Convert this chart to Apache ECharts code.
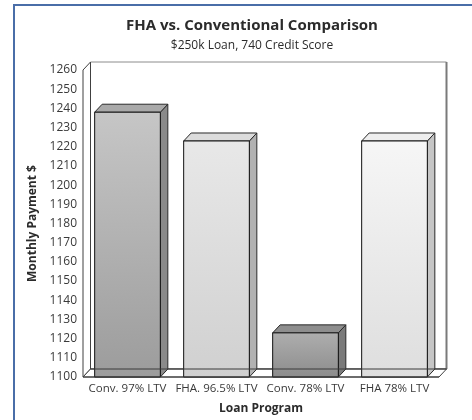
<!DOCTYPE html>
<html>
<head>
<meta charset="utf-8">
<script src="https://cdn.jsdelivr.net/npm/echarts@6/dist/echarts.min.js"></script>
<style>
  html, body { margin: 0; padding: 0; background: #fff; }
  #chart { width: 472px; height: 420px; }
</style>
</head>
<body>
<div id="chart"></div>
<script>
// Loan programs and their monthly payments
const categories = ['Conv. 97% LTV', 'FHA. 96.5% LTV', 'Conv. 78% LTV', 'FHA 78% LTV'];
const payments = [1238, 1223, 1123, 1223];

// Value axis range
const yMin = 1100;
const yMax = 1260;
const yStep = 10;

// Shading of each bar: front gradient, top face, right face
const barFaces = [
  { front: ['#c6c6c6', '#9c9c9c'], lid: '#a9a9a9', side: '#8a8a8a' },
  { front: ['#e8e8e8', '#d0d0d0'], lid: '#dcdcdc', side: '#b2b2b2' },
  { front: ['#aeaeae', '#8c8c8c'], lid: '#8e8e8e', side: '#7a7a7a' },
  { front: ['#f6f6f6', '#dedede'], lid: '#eeeeee', side: '#c6c6c6' }
];

// 3D depth offset of the box and bars
const DX = 7.5;
const DY = 8;
const FONT = '"Open Sans", "Noto Sans", sans-serif';

const chart = echarts.init(document.getElementById('chart'));

function renderWalls(params) {
  const cs = params.coordSys;
  const x = cs.x, y = cs.y, w = cs.width, h = cs.height;
  return {
    type: 'group',
    children: [
      { type: 'rect', shape: { x: x + DX, y: y - DY, width: w, height: h },
        style: { fill: '#fff', stroke: '#8c8c8c', lineWidth: 1 } },
      { type: 'line', shape: { x1: x + w + DX, y1: y - DY, x2: x + w + DX, y2: y + h - DY },
        style: { stroke: '#7a7a7a', lineWidth: 2 } },
      { type: 'polygon', shape: { points: [[x, y], [x + DX, y - DY], [x + DX, y + h - DY], [x, y + h]] },
        style: { fill: '#fff', stroke: '#404040', lineWidth: 1 } },
      { type: 'polygon', shape: { points: [[x, y + h], [x + DX, y + h - DY], [x + w + DX, y + h - DY], [x + w, y + h]] },
        style: { fill: '#fff', stroke: '#404040', lineWidth: 1 } }
    ]
  };
}

function renderFloorEdges(params) {
  const cs = params.coordSys;
  const x = cs.x, y = cs.y, w = cs.width, h = cs.height;
  return {
    type: 'group',
    children: [
      { type: 'line', shape: { x1: x + DX, y1: y + h - DY, x2: x + w + DX, y2: y + h - DY },
        style: { stroke: '#3a3a3a', lineWidth: 1 } },
      { type: 'line', shape: { x1: x, y1: y + h, x2: x + w, y2: y + h },
        style: { stroke: '#3a3a3a', lineWidth: 1 } }
    ]
  };
}

function renderBar(params, api) {
  const i = api.value(0);
  const top = api.coord([i, api.value(1)]);
  const base = api.coord([i, yMin]);
  const bw = api.size([1, 0])[0] * 0.738;
  const x0 = top[0] - bw / 2, x1 = top[0] + bw / 2;
  const yT = top[1], yB = base[1];
  const f = barFaces[i];
  return {
    type: 'group',
    children: [
      { type: 'polygon', shape: { points: [[x1, yT], [x1 + DX, yT - DY], [x1 + DX, yB - DY], [x1, yB]] },
        style: { fill: f.side, stroke: '#2a2a2a', lineWidth: 1 } },
      { type: 'polygon', shape: { points: [[x0, yT], [x0 + DX, yT - DY], [x1 + DX, yT - DY], [x1, yT]] },
        style: { fill: f.lid, stroke: '#2a2a2a', lineWidth: 1 } },
      { type: 'rect', shape: { x: x0, y: yT, width: bw, height: yB - yT },
        style: {
          fill: new echarts.graphic.LinearGradient(0, 0, 0, 1, [
            { offset: 0, color: f.front[0] }, { offset: 1, color: f.front[1] }
          ]),
          stroke: '#111', lineWidth: 1
        } }
    ]
  };
}

chart.setOption({
  animation: false,
  backgroundColor: '#fff',
  title: [
    { text: 'FHA vs. Conventional Comparison', left: 247, top: 13, textAlign: 'center',
      textStyle: { fontFamily: FONT, fontSize: 15, fontWeight: 'bold', color: '#2b2b2b' } },
    { text: '$250k Loan, 740 Credit Score', left: 247, top: 35, textAlign: 'center',
      textStyle: { fontFamily: FONT, fontSize: 12, fontWeight: 'normal', color: '#2b2b2b' } }
  ],
  graphic: [
    { type: 'polyline', shape: { points: [[14, 420], [14, 5], [472, 5]] },
      style: { stroke: '#4a6ea8', lineWidth: 2, fill: null } }
  ],
  grid: { left: 83, right: 33, top: 70, bottom: 43 },
  xAxis: {
    type: 'category',
    data: categories,
    name: 'Loan Program',
    nameLocation: 'middle',
    nameGap: 26,
    nameTextStyle: { fontFamily: FONT, fontSize: 12, fontWeight: 'bold', color: '#2b2b2b' },
    axisLine: { show: false },
    axisTick: { show: false },
    axisLabel: { fontFamily: FONT, fontSize: 11.5, color: '#3a3a3a', margin: 6, interval: 0 }
  },
  yAxis: {
    type: 'value',
    min: yMin,
    max: yMax,
    interval: yStep,
    name: 'Monthly Payment $',
    nameLocation: 'middle',
    nameGap: 37,
    nameTextStyle: { fontFamily: FONT, fontSize: 12, fontWeight: 'bold', color: '#2b2b2b' },
    axisLine: { show: false },
    axisTick: { show: false },
    splitLine: { show: false },
    axisLabel: { fontFamily: FONT, fontSize: 12, color: '#3a3a3a', margin: 6,
      formatter: (v) => String(v) }
  },
  series: [
    { type: 'custom', renderItem: renderWalls, data: [[0, yMin]], z: 1, silent: true },
    { type: 'custom', renderItem: renderBar,
      data: payments.map((v, i) => [i, v]), z: 2 },
    { type: 'custom', renderItem: renderFloorEdges, data: [[0, yMin]], z: 3, silent: true }
  ]
});
</script>
</body>
</html>
